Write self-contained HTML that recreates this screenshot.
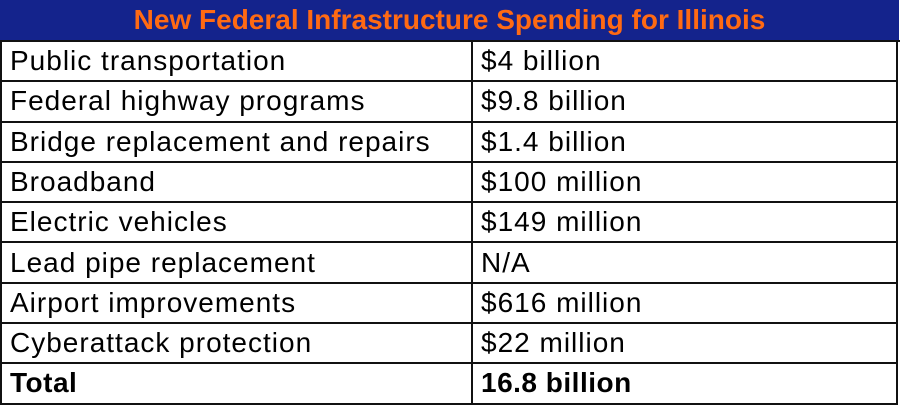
<!DOCTYPE html>
<html><head><style>
body{margin:0;width:900px;height:408px;background:#fff;overflow:hidden;font-family:"Liberation Sans",sans-serif;}
.hdr{position:absolute;left:0;top:0;width:899px;height:40px;background:#14238c;color:#ff6a13;font-weight:bold;font-size:28px;line-height:40px;text-align:center;}
.row{position:absolute;left:0;width:898px;height:40.3px;border-bottom:2px solid #111;box-sizing:border-box;font-size:28px;letter-spacing:1px;color:#000;}
.row span{position:absolute;top:3px;line-height:32px;white-space:nowrap;}
.a{left:10px}.b{left:481px}
.vl{position:absolute;top:40px;width:2px;height:364px;background:#111;}
</style></head><body>
<div class="hdr">New Federal Infrastructure Spending for Illinois</div>
<div style="position:absolute;left:0;top:40px;width:900px;height:2px;background:#111"></div>
<div class="row" style="top:42px"><span class="a">Public transportation</span><span class="b">$4 billion</span></div>
<div class="row" style="top:82.3px"><span class="a">Federal highway programs</span><span class="b">$9.8 billion</span></div>
<div class="row" style="top:122.6px"><span class="a">Bridge replacement and repairs</span><span class="b">$1.4 billion</span></div>
<div class="row" style="top:162.9px"><span class="a">Broadband</span><span class="b">$100 million</span></div>
<div class="row" style="top:203.2px"><span class="a">Electric vehicles</span><span class="b">$149 million</span></div>
<div class="row" style="top:243.5px"><span class="a">Lead pipe replacement</span><span class="b">N/A</span></div>
<div class="row" style="top:283.8px"><span class="a">Airport improvements</span><span class="b">$616 million</span></div>
<div class="row" style="top:324.1px"><span class="a">Cyberattack protection</span><span class="b">$22 million</span></div>
<div class="row" style="top:364.4px;font-weight:bold;letter-spacing:0.5px"><span class="a">Total</span><span class="b">16.8 billion</span></div>
<div class="vl" style="left:0"></div>
<div class="vl" style="left:471px"></div>
<div class="vl" style="left:896px"></div>
</body></html>
